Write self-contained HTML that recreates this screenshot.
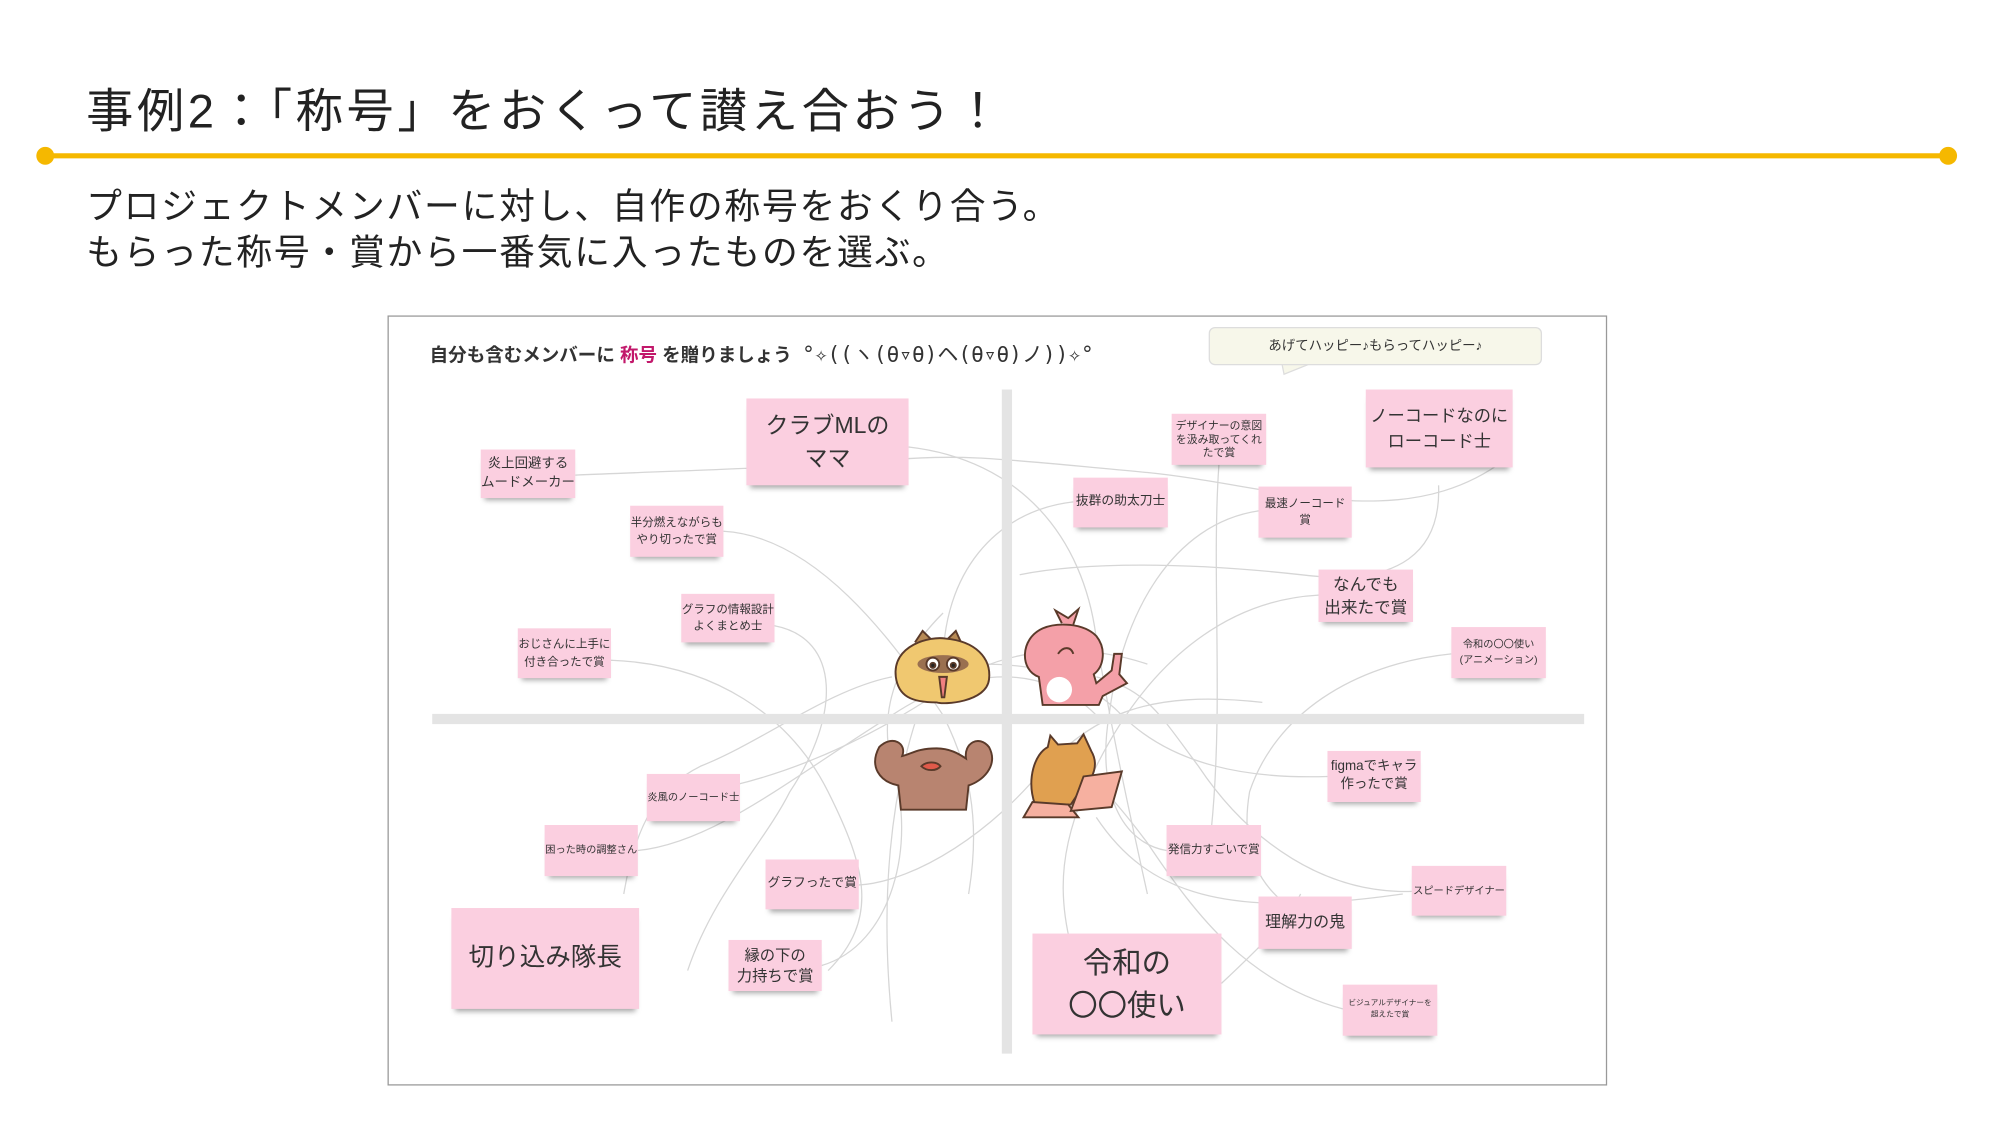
<!DOCTYPE html>
<html><head><meta charset="utf-8"><style>
html,body{margin:0;padding:0;background:#fff;overflow:hidden;width:2000px;height:1125px}
#w{position:absolute;left:-2px;top:0;width:1566px;height:881px;transform:scale(1.2771);transform-origin:0 0;font-family:"Liberation Sans","Noto Sans CJK JP",sans-serif;color:#222}
.a{position:absolute;white-space:nowrap}
.n{position:absolute;background:#fbcfe0;display:flex;align-items:center;justify-content:center;text-align:center;line-height:1.45;color:#333;white-space:nowrap;box-shadow:0 5px 4px -3px rgba(0,0,0,.35)}
</style></head><body><div id="w">
<div class="a" style="left:69px;top:57px;font-size:37px;letter-spacing:2.8px;color:#222">事例2：「称号」をおくって讃え合おう！</div>
<div class="a" style="left:37px;top:120px;width:1490px;height:4px;background:#f5b800"></div>
<div class="a" style="left:30px;top:115px;width:14px;height:14px;border-radius:50%;background:#f5b800"></div>
<div class="a" style="left:1520px;top:115px;width:14px;height:14px;border-radius:50%;background:#f5b800"></div>
<div class="a" style="left:69px;top:144px;font-size:28px;letter-spacing:1.4px;line-height:36px;color:#222">プロジェクトメンバーに対し、自作の称号をおくり合う。<br>もらった称号・賞から一番気に入ったものを選ぶ。</div>

<div class="a" style="left:305px;top:247px;width:953px;height:601px;border:1px solid #999;background:#fff"></div>
<div class="a" style="left:338px;top:264px;font-size:14.5px;font-weight:bold;color:#333">自分も含むメンバーに <span style="color:#c2186b">称号</span> を贈りましょう &nbsp;<span style="font-weight:normal;font-family:'DejaVu Sans Mono',monospace;font-size:16.5px">°✧((ヽ(θ▿θ)ヘ(θ▿θ)ノ))✧°</span></div>
<svg class="a" style="left:0;top:0" width="1566" height="881">
<path d="M1005 283 L1007 293 L1032 283" fill="#f7f7ea" stroke="#ddd"/>
<g fill="none" stroke="#d6d6d6" stroke-width="1">
<path d="M452 372 C550 368 650 365 700 360 C760 355 790 360 900 370 C1000 380 1100 420 1180 360"/>
<path d="M713 350 C800 360 850 420 860 500 C870 560 880 610 900 700"/>
<path d="M568 416 C640 420 700 500 740 560 C760 600 770 640 760 700"/>
<path d="M608 490 C660 500 660 560 620 620 C600 660 560 700 540 760"/>
<path d="M480 517 C560 520 620 560 650 620 C680 680 690 720 650 760"/>
<path d="M842 393 C780 400 740 450 740 520"/>
<path d="M956 364 C950 450 960 550 950 650"/>
<path d="M987 400 C920 410 880 480 870 560 C860 620 880 660 915 666"/>
<path d="M1128 380 C1130 430 1100 460 1020 450 C930 440 850 440 800 450"/>
<path d="M1034 466 C960 470 900 520 860 600 C830 660 830 700 840 740"/>
<path d="M1138 512 C1060 520 1000 560 980 620 C970 680 1000 700 1010 710"/>
<path d="M508 625 C600 620 680 580 740 540 C780 510 840 500 900 520"/>
<path d="M501 666 C560 660 620 610 700 560 C760 520 820 520 860 560"/>
<path d="M674 693 C720 690 780 650 820 600 C860 560 900 540 990 550"/>
<path d="M645 756 C700 740 720 660 700 600 C690 560 700 520 740 480"/>
<path d="M1041 608 C980 610 920 600 880 560 C850 530 820 520 770 520"/>
<path d="M1107 698 C1040 700 980 660 940 600 C910 560 900 540 860 530"/>
<path d="M1053 790 C980 770 940 720 900 660 C870 620 850 600 830 590"/>
<path d="M958 770 C990 740 1010 720 1020 700"/>
<path d="M700 530 C650 540 600 580 550 600 C520 615 500 640 490 700"/>
<path d="M720 560 C700 620 690 700 700 800"/>
<path d="M860 640 C900 700 960 720 1100 700"/>
</g>
<rect x="786" y="305" width="8" height="520" fill="#e4e4e4"/>
<rect x="340" y="559" width="902" height="8" fill="#e4e4e4"/>
<g stroke="#5a3a2a" stroke-width="1.5">
<path d="M718 503 L724 494 L732 502 M742 502 L750 494 L755 505" fill="#b88a55"/>
<path d="M703 530 C700 505 730 498 742 500 C765 502 778 515 776 532 C774 550 740 552 735 550 C715 550 705 545 703 530 Z" fill="#f0c870"/>
<ellipse cx="740" cy="520" rx="20" ry="7" fill="#9a7050" stroke="none"/>
<circle cx="732" cy="520" r="5" fill="#fff"/><circle cx="748" cy="520" r="5" fill="#fff"/>
<circle cx="732" cy="521" r="2" fill="#222"/><circle cx="748" cy="521" r="2" fill="#222"/>
<path d="M737 530 L743 530 L741 546 L739 546 Z" fill="#f08080"/>
</g>
<g stroke="#5a3a2a" stroke-width="1.5">
<path d="M833 488 L828 478 L838 484 L846 477 L842 489" fill="#f4a0a8"/>
<path d="M818 552 L815 530 C800 525 800 500 818 492 C830 487 850 488 860 498 C868 508 866 522 858 528 L860 535 L872 525 L874 512 L880 512 L878 528 L884 535 L865 545 L862 552 Z" fill="#f4a0a8"/>
<circle cx="831" cy="540" r="10" fill="#fff" stroke="none"/>
<path d="M830 512 C834 506 840 506 842 512" fill="none"/>
</g>
<g stroke="#5a3a2a" stroke-width="1.5">
<path d="M707 634 L705 615 C690 612 682 600 690 585 C700 575 712 582 708 592 C716 590 720 586 735 586 C745 586 752 590 758 594 C756 582 768 575 776 585 C784 600 770 612 760 615 L758 634 Z" fill="#b88470"/>
<path d="M723 600 C727 596 735 596 738 600 C735 604 727 604 723 600 Z" fill="#e05a4a"/>
</g>
<g stroke="#5a3a2a" stroke-width="1.5">
<path d="M812 630 C805 610 812 590 822 585 L824 576 L830 583 L845 582 L850 575 L856 588 C862 598 858 610 850 615 L840 630 Z" fill="#e0a050"/>
<path d="M803 640 L810 628 L838 630 L846 640 Z" fill="#f6b0a0"/>
<path d="M840 635 L850 608 L880 604 L872 632 Z" fill="#f6b0a0"/>
</g>
</svg>
<div class="a" style="left:948px;top:256px;width:259px;height:28px;background:#f7f7ea;border:1px solid #ddd;border-radius:5px;font-size:10.5px;line-height:28px;text-align:center;color:#333">あげてハッピー♪もらってハッピー♪</div>

<div class="n" style="left:378px;top:352px;width:74px;height:38px;font-size:10.5px">炎上回避する<br>ムードメーカー</div>
<div class="n" style="left:586px;top:312px;width:127px;height:68px;font-size:18px">クラブMLの<br>ママ</div>
<div class="n" style="left:495px;top:396px;width:73px;height:40px;font-size:9px">半分燃えながらも<br>やり切ったで賞</div>
<div class="n" style="left:535px;top:465px;width:73px;height:38px;font-size:9px">グラフの情報設計<br>よくまとめ士</div>
<div class="n" style="left:407px;top:492px;width:73px;height:39px;font-size:9px">おじさんに上手に<br>付き合ったで賞</div>
<div class="n" style="left:919px;top:324px;width:74px;height:40px;font-size:8.5px;line-height:1.25">デザイナーの意図<br>を汲み取ってくれ<br>たで賞</div>
<div class="n" style="left:1071px;top:305px;width:115px;height:61px;font-size:13.5px">ノーコードなのに<br>ローコード士</div>
<div class="n" style="left:842px;top:374px;width:74px;height:39px;font-size:10px">抜群の助太刀士</div>
<div class="n" style="left:987px;top:381px;width:73px;height:40px;font-size:9px">最速ノーコード<br>賞</div>
<div class="n" style="left:1034px;top:446px;width:74px;height:41px;font-size:13px;line-height:1.35">なんでも<br>出来たで賞</div>
<div class="n" style="left:1138px;top:491px;width:74px;height:40px;font-size:8px">令和の〇〇使い<br>(アニメーション)</div>
<div class="n" style="left:508px;top:606px;width:73px;height:37px;font-size:8px">炎風のノーコード士</div>
<div class="n" style="left:428px;top:646px;width:73px;height:40px;font-size:8px">困った時の調整さん</div>
<div class="n" style="left:601px;top:673px;width:73px;height:39px;font-size:10px">グラフったで賞</div>
<div class="n" style="left:355px;top:711px;width:147px;height:79px;font-size:20px">切り込み隊長</div>
<div class="n" style="left:572px;top:736px;width:73px;height:40px;font-size:12px;line-height:1.35">縁の下の<br>力持ちで賞</div>
<div class="n" style="left:1041px;top:588px;width:73px;height:40px;font-size:10.5px;line-height:1.3">figmaでキャラ<br>作ったで賞</div>
<div class="n" style="left:915px;top:646px;width:74px;height:40px;font-size:9px">発信力すごいで賞</div>
<div class="n" style="left:1107px;top:678px;width:74px;height:39px;font-size:8px">スピードデザイナー</div>
<div class="n" style="left:987px;top:702px;width:73px;height:41px;font-size:12.5px">理解力の鬼</div>
<div class="n" style="left:810px;top:731px;width:148px;height:79px;font-size:23px;line-height:1.4">令和の<br>〇〇使い</div>
<div class="n" style="left:1053px;top:771px;width:74px;height:40px;font-size:6px">ビジュアルデザイナーを<br>超えたで賞</div>
</div></body></html>
